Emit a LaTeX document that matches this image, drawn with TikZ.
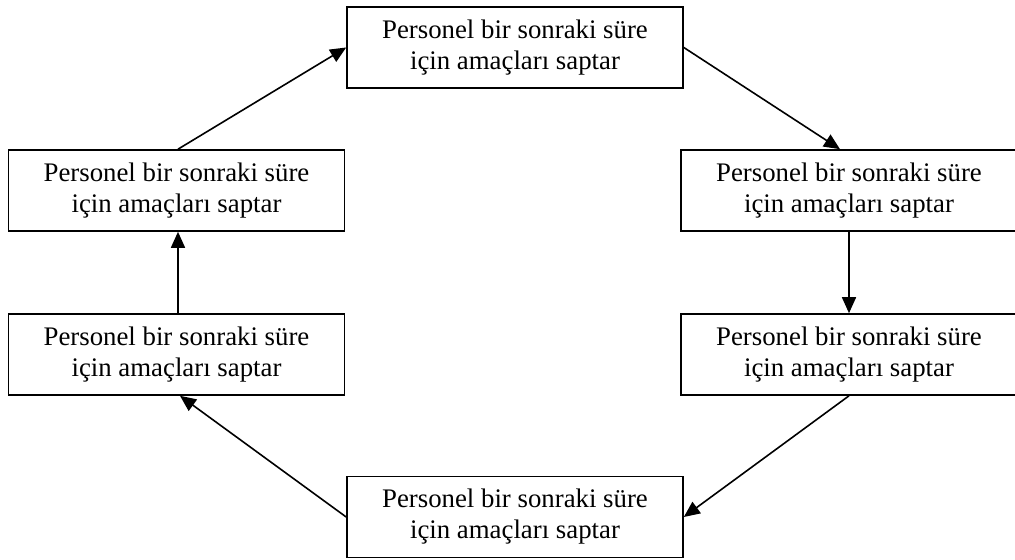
\documentclass[tikz,border=0pt]{standalone}
\usepackage{fontspec}
\setmainfont{Liberation Serif}
\usepackage{tikz}
\usetikzlibrary{positioning,arrows.meta}

\begin{document}
\begin{tikzpicture}[on grid, line width=0.8pt,
		box/.style={draw, minimum width=168pt, minimum height=40.5pt, align=center, font=\fontsize{13.4}{15.5}\selectfont},
		step arrow/.style={-{Triangle[length=8pt,width=7pt]}}]
		\useasboundingbox (-257.5pt,23.75pt) rectangle (250pt,-256.25pt);
		\node[box] (top) {Personel bir sonraki süre\\için amaçları saptar};
		\node[box, below left=71.5pt and 169.25pt of top] (leftup) {Personel bir sonraki süre\\için amaçları saptar};
		\node[box, below right=71.5pt and 167pt of top] (rightup) {Personel bir sonraki süre\\için amaçları saptar};
		\node[box, below=82pt of leftup] (leftlow) {Personel bir sonraki süre\\için amaçları saptar};
		\node[box, below=82pt of rightup] (rightlow) {Personel bir sonraki süre\\için amaçları saptar};
		\node[box, below=234.75pt of top] (bottom) {Personel bir sonraki süre\\için amaçları saptar};
		
		\draw[step arrow] (top.east) -- ([xshift=-4.5pt]rightup.north);
		\draw[step arrow] (rightup.south) -- (rightlow.north);
		\draw[step arrow] (rightlow.south) -- (bottom.east);
		\draw[step arrow] (bottom.west) -- ([xshift=1.75pt]leftlow.south);
		\draw[step arrow] ([xshift=0.75pt]leftlow.north) -- ([xshift=0.75pt]leftup.south);
		\draw[step arrow] ([xshift=0.75pt]leftup.north) -- (top.west);
	\end{tikzpicture}
\end{document}
